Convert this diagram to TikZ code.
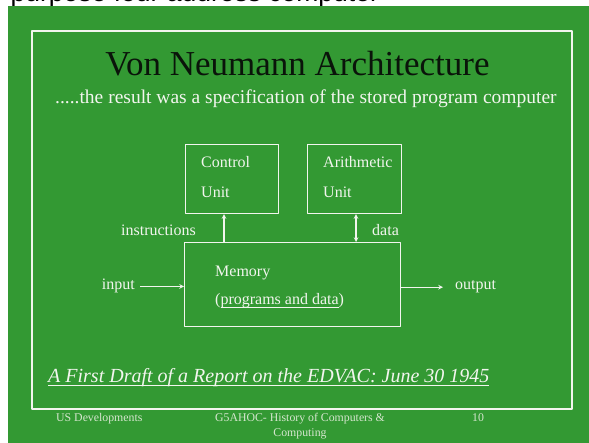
\documentclass[tikz,border=0pt]{standalone}
\usepackage{fontspec}
\setmainfont{Liberation Serif}
\newfontfamily\arialfont{Liberation Sans}
\usetikzlibrary{positioning}
\definecolor{slidegreen}{HTML}{339933}
\definecolor{chalk}{HTML}{F2F5EE}
\definecolor{footgrey}{HTML}{D6E6CF}
\definecolor{titleink}{HTML}{0A140A}
\newsavebox\ulinbox
\newcommand\ulin[1]{\sbox\ulinbox{#1}\rlap{\rule[-2.5pt]{\wd\ulinbox}{0.8pt}}\usebox\ulinbox}

\begin{document}
\begin{tikzpicture}[x=1pt, y=-1pt, line join=round, >=stealth,
	font=\fontsize{16}{30}\selectfont, text=chalk,
	unitbox/.style={draw=chalk, line width=1.1pt, anchor=north west, inner sep=0pt},
	label/.style={inner sep=0pt, anchor=base west},
	foot/.style={font=\fontsize{11.8}{16}\selectfont, text=footgrey, inner sep=0pt}]

	\useasboundingbox (0,0) rectangle (589,443);
	\clip (0,0) rectangle (589,443);

	% cut-off line of the page above
	\node[label, text=black, font=\arialfont\fontsize{26.5}{30}\selectfont] (cut) at (10.5,1.5) {purpose four address computer};

	\fill[slidegreen] (8,6) rectangle (589,443);
	\draw[chalk, line width=1.4pt] (32,31) rectangle (572,409);

	\node[anchor=base, text=titleink, font=\fontsize{35}{40}\selectfont] (title) at (297.5,76) {Von Neumann Architecture};
	\node[label, font=\fontsize{19.5}{22}\selectfont] (sub) at (55,104) {.....the result was a specification of the stored program computer};

	% units
	\node[unitbox, minimum width=93pt, minimum height=69pt] (control) at (185,144) {};
	\node[unitbox, minimum width=94pt, minimum height=69pt] (arith) at (307,144) {};
	\node[unitbox, minimum width=216pt, minimum height=84pt] (memory) at (184,242) {};

	\foreach \n/\t/\dy/\k in {control/Control/24/1, control/Unit/54/2, arith/Arithmetic/24/1, arith/Unit/54/2}
	\node[label] (\n-\k) at ([shift={(16,\dy)}]\n.north west) {\t};
	\node[label] (memory-1) at ([shift={(31,35)}]memory.north west) {Memory};
	\node[label] (memory-2) at ([shift={(31,63)}]memory.north west) {(\ulin{programs and data})};

	\path
	(control.south west) ++(39,0) coordinate (ctl-in)
	(arith.south west) ++(49,0) coordinate (ar-io)
	;

	\draw[chalk, line width=1.1pt, ->] (ctl-in |- memory.north) -- (ctl-in);
	\draw[chalk, line width=1.1pt, <->] (ar-io |- memory.north) -- (ar-io);
	\node[label, anchor=base east] (instr) at (196,236) {instructions};
	\node[label] (data) at (372,236) {data};

	\node[label, anchor=base east, inner sep=5pt] (in) at (140,290) {input};
	\node[label, inner sep=5pt] (out) at (450,290) {output};
	\draw[chalk, line width=1.1pt, ->] (in) -- (in -| memory.west);
	\draw[chalk, line width=1.1pt, ->, shorten >=7pt] (memory.east |- out) -- (out);

	\node[label, font=\itshape\fontsize{20}{24}\selectfont] (draft) at (48,383) {\ulin{A First Draft of a Report on the EDVAC: June 30 1945}};

	% footer
	\node[foot, anchor=base west] (f-left) at (56,421) {US Developments};
	\node[foot, anchor=base] (f-mid) at (300,421) {G5AHOC- History of Computers \&};
	\node[foot, anchor=base] (f-mid2) at (300,436) {Computing};
	\node[foot, anchor=base west] (f-right) at (472,421) {10};
\end{tikzpicture}
\end{document}
